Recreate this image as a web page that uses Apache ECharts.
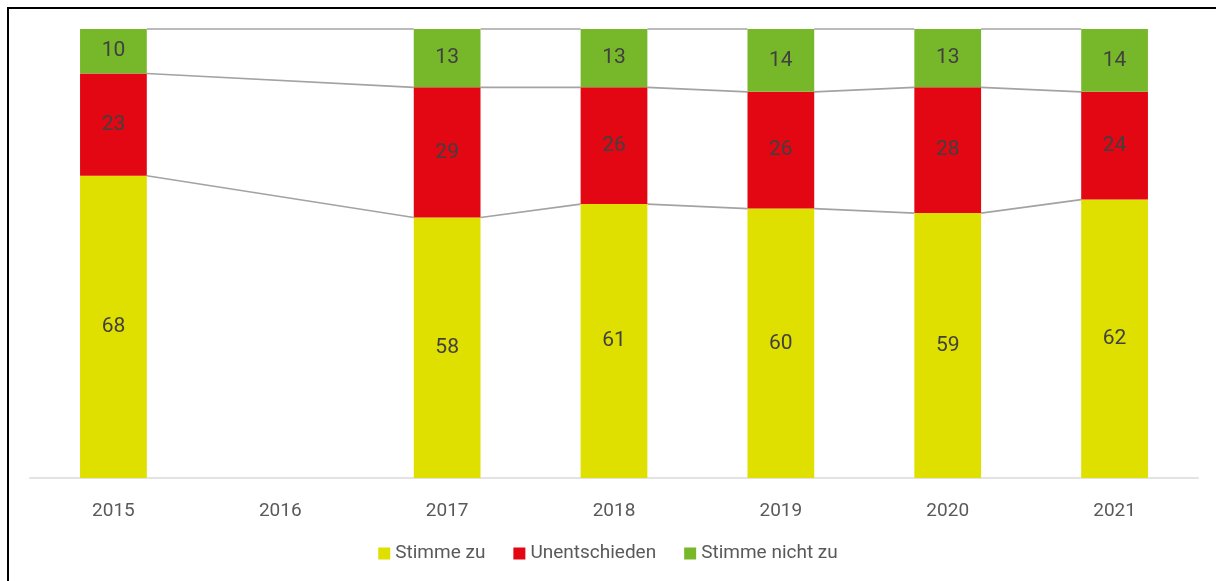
<!DOCTYPE html>
<html>
<head>
<meta charset="utf-8">
<script src="https://cdn.jsdelivr.net/npm/echarts@6/dist/echarts.min.js"></script>
<style>
  html, body { margin: 0; padding: 0; background: #fff; }
  #chart { width: 1216px; height: 581px; }
  #frame {
    position: absolute; left: 7px; top: 7px; right: 0; bottom: 0;
    border-left: 2px solid #000; border-top: 2px solid #000;
    pointer-events: none;
  }
</style>
</head>
<body>
<div id="chart"></div>
<div id="frame"></div>
<script>
// Daten
const years = ['2015', '2016', '2017', '2018', '2019', '2020', '2021'];
const agree = [68, null, 58, 61, 60, 59, 62];        // Stimme zu
const undecided = [23, null, 29, 26, 26, 28, 24];    // Unentschieden
const disagree = [10, null, 13, 13, 14, 13, 14];     // Stimme nicht zu

const font = 'Roboto, "Noto Sans", sans-serif';

// 100%-gestapelt: Anteile je Jahr
const totals = years.map((_, i) =>
  agree[i] == null ? null : agree[i] + undecided[i] + disagree[i]);
const pct = arr => arr.map((v, i) => v == null ? null : { value: v / totals[i] * 100, raw: v });

// Verbindungslinien zwischen benachbarten Balken (leere Jahre übersprungen)
const idx = years.map((_, i) => i).filter(i => totals[i] != null);
const lineData = [];
for (let k = 0; k < idx.length - 1; k++) {
  const a = idx[k], b = idx[k + 1];
  const levelA = [agree[a] / totals[a] * 100, (agree[a] + undecided[a]) / totals[a] * 100, 100];
  const levelB = [agree[b] / totals[b] * 100, (agree[b] + undecided[b]) / totals[b] * 100, 100];
  for (let l = 0; l < 3; l++) lineData.push([a, b, levelA[l], levelB[l]]);
}

const barWidthRatio = 0.4;
const label = {
  show: true,
  position: 'inside',
  color: '#404040',
  fontFamily: font,
  fontSize: 21,
  formatter: p => p.data.raw
};

const chart = echarts.init(document.getElementById('chart'));
chart.setOption({
  animation: false,
  textStyle: { fontFamily: font },
  grid: { left: 30, right: 18, top: 29, bottom: 103 },
  legend: {
    bottom: 13,
    left: 'center',
    itemWidth: 12,
    itemHeight: 12,
    itemGap: 28,
    icon: 'rect',
    textStyle: { color: '#595959', fontSize: 19, fontFamily: font },
    data: ['Stimme zu', 'Unentschieden', 'Stimme nicht zu']
  },
  xAxis: {
    type: 'category',
    data: years,
    axisLine: { lineStyle: { color: '#e3e3e3', width: 2 } },
    axisTick: { show: false },
    axisLabel: { color: '#595959', fontSize: 19, margin: 24, fontFamily: font }
  },
  yAxis: {
    type: 'value',
    min: 0,
    max: 100,
    show: false,
    splitLine: { show: false }
  },
  series: [
    {
      name: 'Stimme zu', type: 'bar', stack: 'total',
      barWidth: (barWidthRatio * 100) + '%',
      itemStyle: { color: '#dfdf00' },
      label, data: pct(agree)
    },
    {
      name: 'Unentschieden', type: 'bar', stack: 'total',
      itemStyle: { color: '#e30613' },
      label, data: pct(undecided)
    },
    {
      name: 'Stimme nicht zu', type: 'bar', stack: 'total',
      itemStyle: { color: '#77b82a' },
      label, data: pct(disagree)
    },
    {
      type: 'custom',
      silent: true,
      z: 1,
      renderItem: (params, api) => {
        const p0 = api.coord([api.value(0), api.value(2)]);
        const p1 = api.coord([api.value(1), api.value(3)]);
        const hw = api.size([1, 0])[0] * barWidthRatio / 2;
        return {
          type: 'line',
          shape: { x1: p0[0] + hw, y1: p0[1], x2: p1[0] - hw, y2: p1[1] },
          style: { stroke: '#a3a3a3', lineWidth: 1.6 }
        };
      },
      encode: { x: [0, 1], y: [2, 3] },
      data: lineData
    }
  ]
});
</script>
</body>
</html>
